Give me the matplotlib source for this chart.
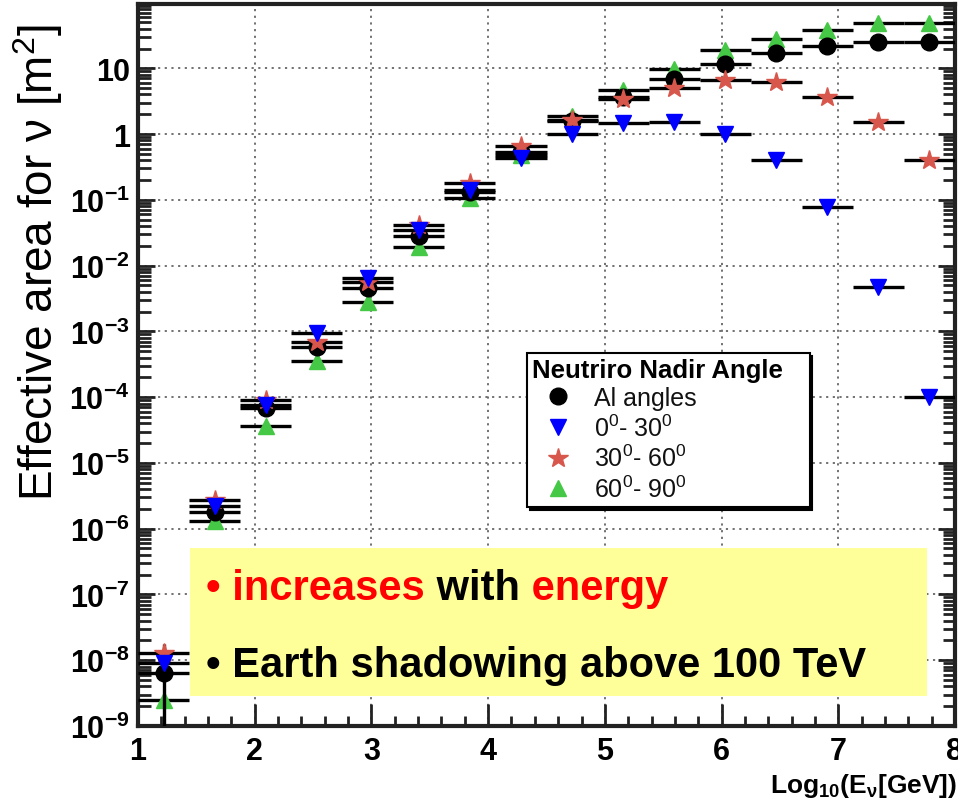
import matplotlib
matplotlib.use('Agg')
import matplotlib.pyplot as plt
from matplotlib.ticker import MultipleLocator, LogLocator, NullFormatter
from matplotlib.lines import Line2D
from matplotlib.patches import Rectangle

plt.rcParams['font.family'] = ['Liberation Sans', 'DejaVu Sans']
plt.rcParams['mathtext.fontset'] = 'custom'
plt.rcParams['mathtext.default'] = 'regular'
plt.rcParams['mathtext.rm'] = 'Liberation Sans'
plt.rcParams['mathtext.it'] = 'Liberation Sans:italic'
plt.rcParams['mathtext.bf'] = 'Liberation Sans:bold'

# ---------------- data ----------------
log_energy = [1.219, 1.656, 2.094, 2.531, 2.969, 3.406, 3.844, 4.281,
              4.719, 5.156, 5.594, 6.031, 6.469, 6.906, 7.344, 7.781]
bin_half_width = 0.219

all_angles = [6.4e-9, 1.8e-6, 6.8e-5, 5.7e-4, 4.6e-3, 0.028, 0.13, 0.54,
              1.6, 3.7, 6.8, 11.5, 17.0, 22.0, 25.0, 25.5]
all_err_low = [6.3e-9, 0, 0, 0, 0, 0, 0, 0, 0, 0, 0, 0, 0, 0, 0, 0]
all_err_high = [1.1e-8, 0, 0, 0, 0, 0, 0, 0, 0, 0, 0, 0, 0, 0, 0, 0]

nadir_0_30 = [9.0e-9, 2.2e-6, 7.5e-5, 9.5e-4, 6.5e-3, 0.035, 0.14, 0.43,
              0.99, 1.45, 1.5, 0.99, 0.41, 0.079, 0.0047, 1.0e-4]
nadir_30_60 = [1.3e-8, 2.7e-6, 9.0e-5, 7.0e-4, 5.6e-3, 0.042, 0.18, 0.65,
               1.66, 3.4, 5.1, 6.6, 6.2, 3.7, 1.55, 0.40]
nadir_60_90 = [2.5e-9, 1.3e-6, 3.7e-5, 3.6e-4, 2.8e-3, 0.0195, 0.107, 0.48,
               1.9, 4.6, 9.7, 19.0, 28.0, 38.0, 49.0, 49.0]

legend_labels = ['Al angles', '0$^0$- 30$^0$', '30$^0$- 60$^0$', '60$^0$- 90$^0$']
legend_title = 'Neutriro Nadir Angle'

x_ticks = [1, 2, 3, 4, 5, 6, 7, 8]
y_ticks = [1e-9, 1e-8, 1e-7, 1e-6, 1e-5, 1e-4, 1e-3, 1e-2, 1e-1, 1, 10]
y_ticklabels = ['10$^{-9}$', '10$^{-8}$', '10$^{-7}$', '10$^{-6}$', '10$^{-5}$',
                '10$^{-4}$', '10$^{-3}$', '10$^{-2}$', '10$^{-1}$', '1', '10']

# ---------------- figure ----------------
W, H = 958, 812
fig = plt.figure(figsize=(W / 100, H / 100), dpi=100)
ax = fig.add_axes([138 / W, 85 / H, 817 / W, 722 / H])
ax.set_yscale('log')
ax.set_xlim(1, 8)
ax.set_ylim(1e-9, 95)

ax.grid(True, which='major', linestyle=(0, (1.2, 2.5)), color='#666666', lw=1.3)
ax.set_axisbelow(True)

RED = '#d8574c'
GREEN = '#45c845'
BLUE = '#0000ff'

common = dict(xerr=bin_half_width, ecolor='black', elinewidth=2.4, capsize=0,
              linestyle='none')
ax.errorbar(log_energy, nadir_60_90, fmt='^', color=GREEN, ms=12, mec=GREEN,
            zorder=3, **common)
ax.errorbar(log_energy, all_angles, yerr=[all_err_low, all_err_high], fmt='o',
            color='black', ms=12, zorder=4, **common)
ax.errorbar(log_energy, nadir_30_60, fmt='*', color=RED, ms=15, mec=RED,
            zorder=5, **common)
ax.errorbar(log_energy, nadir_0_30, fmt='v', color=BLUE, ms=12, mec=BLUE,
            zorder=6, **common)

# ticks
ax.set_xticks(x_ticks)
ax.set_xticklabels([str(v) for v in x_ticks], fontsize=22, fontweight='bold')
ax.set_yticks(y_ticks)
ax.set_yticklabels(y_ticklabels, fontsize=22, fontweight='bold')
ax.xaxis.set_minor_locator(MultipleLocator(0.2))
ax.yaxis.set_minor_locator(LogLocator(base=10, subs=range(2, 10), numticks=30))
ax.yaxis.set_minor_formatter(NullFormatter())
ax.tick_params(which='both', direction='in', right=True, top=False,
               color='#222222')
ax.tick_params(axis='x', which='major', length=16, width=2, pad=7)
ax.tick_params(axis='x', which='minor', length=7, width=2)
ax.tick_params(axis='y', which='major', length=12, width=2, pad=6)
ax.tick_params(axis='y', which='minor', length=9, width=2)
for sp in ax.spines.values():
    sp.set_linewidth(3)
    sp.set_color('#222222')

# legend
handles = [
    Line2D([], [], marker='o', color='black', ls='none', ms=12),
    Line2D([], [], marker='v', color=BLUE, ls='none', ms=12),
    Line2D([], [], marker='*', color=RED, ls='none', ms=15),
    Line2D([], [], marker='^', color=GREEN, ls='none', ms=12),
]
leg = ax.legend(handles, legend_labels, title=legend_title,
                loc='upper left', bbox_to_anchor=(0.476, 0.308, 0.346, 0.209),
                mode='expand', fontsize=18,
                title_fontproperties={'size': 18.5, 'weight': 'bold'},
                alignment='left', frameon=True, fancybox=False,
                shadow={'color': 'black', 'alpha': 1},
                borderpad=0.2, labelspacing=0.17, handlelength=2.1,
                handletextpad=0.4, borderaxespad=0)
leg.get_frame().set_edgecolor('black')
leg.get_frame().set_linewidth(1.5)
for t in leg.get_texts():
    t.set_color('#111111')

# axis labels
fig.text(38 / W, 1 - 262 / H, 'Effective area for ν [m$^2$]', rotation=90,
         fontsize=33, ha='center', va='center')
fig.text(957 / W, 1 - 793 / H, r'Log$_{10}$(E$_{\nu}$[GeV])', ha='right',
         va='baseline', fontsize=19, fontweight='bold')

# yellow annotation box
fig.patches.append(Rectangle((190 / W, 1 - 697 / H), (927 - 190) / W, (697 - 549) / H,
                             transform=fig.transFigure, facecolor='#ffff99',
                             edgecolor='none', zorder=5))

renderer = fig.canvas.get_renderer()


def colored_line(x_px, base_px, pieces, fs=30):
    x = x_px
    for s, c in pieces:
        t = fig.text(x / W, 1 - base_px / H, s, color=c, fontsize=fs,
                     fontweight='bold', ha='left', va='baseline', zorder=6)
        bb = t.get_window_extent(renderer)
        x = bb.x1


colored_line(206, 600, [('• increases', 'red'), (' with', 'black'), (' energy', 'red')])
colored_line(206, 677, [('• Earth shadowing above 100 TeV', 'black')])

fig.savefig('out.png', dpi=100)
